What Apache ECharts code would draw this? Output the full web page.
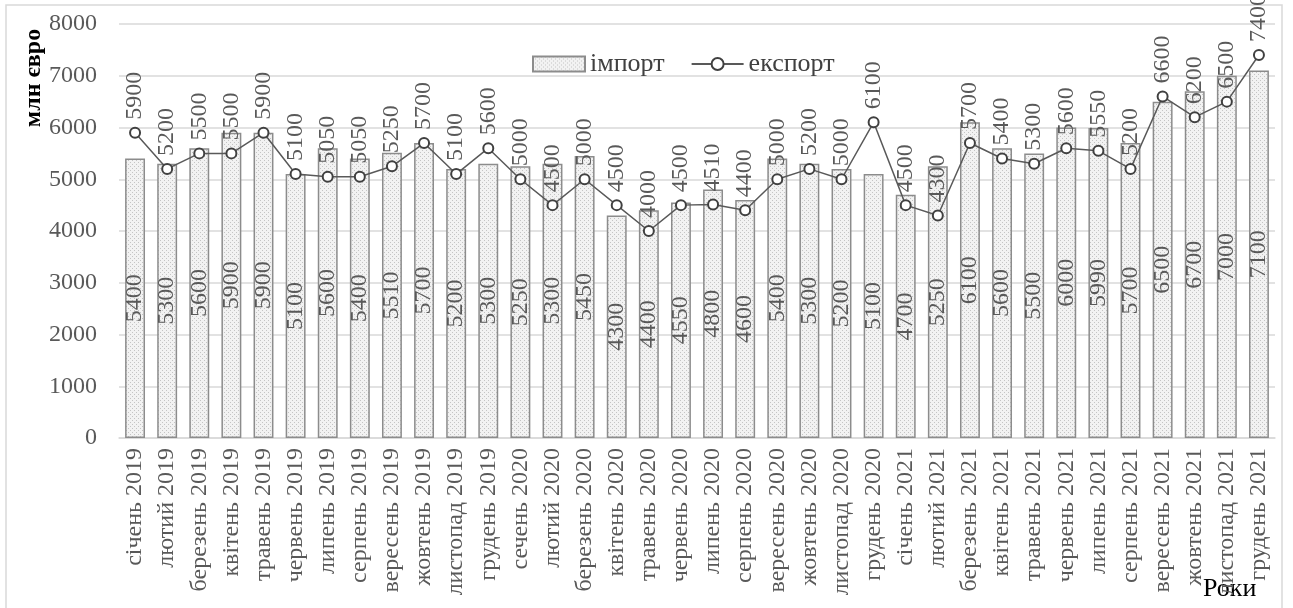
<!DOCTYPE html>
<html>
<head>
<meta charset="utf-8">
<script src="https://cdn.jsdelivr.net/npm/echarts@6/dist/echarts.min.js"></script>
<style>html,body{margin:0;padding:0;background:#fff}#c{width:1293px;height:608px}</style>
</head>
<body>
<div id="c"></div>
<script>
const categories = [
  'січень 2019','лютий 2019','березень 2019','квітень 2019','травень 2019','червень 2019',
  'липень 2019','серпень 2019','вересень 2019','жовтень 2019','листопад 2019','грудень 2019',
  'сечень 2020','лютий 2020','березень 2020','квітень 2020','травень 2020','червень 2020',
  'липень 2020','серпень 2020','вересень 2020','жовтень 2020','листопад 2020','грудень 2020',
  'січень 2021','лютий 2021','березень 2021','квітень 2021','травень 2021','червень 2021',
  'липень 2021','серпень 2021','вересень 2021','жовтень 2021','листопад 2021','грудень 2021'
];
const importValues = [
  5400, 5300, 5600, 5900, 5900, 5100, 5600, 5400, 5510, 5700, 5200, 5300,
  5250, 5300, 5450, 4300, 4400, 4550, 4800, 4600, 5400, 5300, 5200, 5100,
  4700, 5250, 6100, 5600, 5500, 6000, 5990, 5700, 6500, 6700, 7000, 7100
];
const exportValues = [
  5900, 5200, 5500, 5500, 5900, 5100, 5050, 5050, 5250, 5700, 5100, 5600,
  5000, 4500, 5000, 4500, 4000, 4500, 4510, 4400, 5000, 5200, 5000, 6100,
  4500, 4300, 5700, 5400, 5300, 5600, 5550, 5200, 6600, 6200, 6500, 7400
];
const yTicks = { min: 0, max: 8000, interval: 1000 };
const seriesNames = ['імпорт', 'експорт'];
const yAxisTitle = 'млн євро';
const xAxisTitle = 'Роки';

const FONT = "'Liberation Serif', 'Times New Roman', serif";

// dotted fill pattern
const pat = document.createElement('canvas');
pat.width = 4; pat.height = 4;
const pc = pat.getContext('2d');
pc.fillStyle = '#f2f2f2'; pc.fillRect(0, 0, 4, 4);
pc.fillStyle = '#c4c4c4';
pc.fillRect(0, 0, 1, 1); pc.fillRect(2, 2, 1, 1);

const chart = echarts.init(document.getElementById('c'), null, { renderer: 'canvas' });
chart.setOption({
  animation: false,
  backgroundColor: '#fff',
  textStyle: { fontFamily: FONT },
  grid: { left: 119, right: 18, top: 24, bottom: 170, containLabel: false },
  legend: {
    top: 46, left: 527,
    itemWidth: 52, itemHeight: 15, itemGap: 26,
    textStyle: { fontFamily: FONT, fontSize: 26, color: '#404040' },
    data: [
      { name: seriesNames[0], icon: 'rect' },
      { name: seriesNames[1], itemStyle: { borderWidth: 1.5 } }
    ]
  },
  xAxis: {
    type: 'category',
    data: categories,
    boundaryGap: true,
    axisLine: { show: true, lineStyle: { color: '#d9d9d9', width: 1.5 } },
    axisTick: { show: false },
    axisLabel: { rotate: 90, interval: 0, margin: 10, fontFamily: FONT, fontSize: 24, color: '#595959' }
  },
  yAxis: {
    type: 'value',
    min: yTicks.min, max: yTicks.max, interval: yTicks.interval,
    axisLine: { show: false },
    axisTick: { show: false },
    splitLine: { lineStyle: { color: '#d9d9d9', width: 1.5 } },
    axisLabel: { margin: 22, fontFamily: FONT, fontSize: 24, color: '#595959', formatter: v => String(v) }
  },
  graphic: [
    { type: 'rect', shape: { x: 6, y: 5, width: 1276, height: 620 }, style: { fill: 'none', stroke: '#d9d9d9', lineWidth: 1.5 }, silent: true, z: -1 },
    { type: 'text', x: 34, y: 78, rotation: Math.PI / 2, style: { text: yAxisTitle, font: "bold 24px 'Liberation Serif', serif", fill: '#000', textAlign: 'center', textVerticalAlign: 'middle' } },
    { type: 'text', x: 1203, y: 589, style: { text: xAxisTitle, font: "26px 'Liberation Serif', serif", fill: '#000', textAlign: 'left', textVerticalAlign: 'middle' } }
  ],
  series: [
    {
      name: seriesNames[0],
      type: 'bar',
      data: importValues,
      barWidth: '62%',
      itemStyle: { color: { image: pat, repeat: 'repeat' }, borderColor: '#8c8c8c', borderWidth: 1.5 },
      label: {
        show: true, position: 'inside', rotate: 90,
        fontFamily: FONT, fontSize: 24, color: '#595959'
      },
      z: 2
    },
    {
      name: seriesNames[1],
      type: 'line',
      data: exportValues,
      symbol: 'emptyCircle',
      symbolSize: 10,
      lineStyle: { color: '#595959', width: 1.5 },
      itemStyle: { color: '#404040', borderColor: '#404040', borderWidth: 1.8 },
      label: {
        show: true, position: 'top', rotate: 90, distance: 7,
        align: 'left', verticalAlign: 'middle',
        fontFamily: FONT, fontSize: 24, color: '#595959'
      },
      z: 3
    }
  ]
});
</script>
</body>
</html>
